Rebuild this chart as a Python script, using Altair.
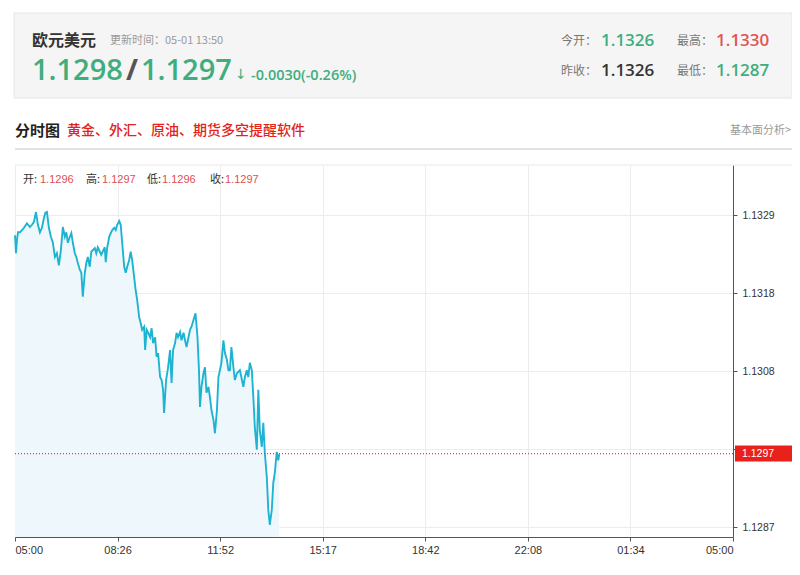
import altair as alt
import pandas as pd

# ---------------- data ----------------
minutes = [0, 2, 4, 6, 10, 14, 18, 24, 30, 34, 38, 42, 46, 50, 54, 58, 61, 64, 68, 72,
           76, 80, 84, 88, 92, 96, 100, 103, 106, 110, 113, 116, 120, 123, 126, 130, 133, 136, 140, 143,
           146, 150, 153, 160, 163, 166, 173, 180, 182, 185, 189, 192, 195, 199, 202, 205, 209, 212, 215, 219,
           222, 225, 229, 232, 235, 239, 242, 245, 249, 252, 255, 259, 261, 264, 267, 271, 274, 277, 281, 284,
           287, 291, 294, 297, 299, 303, 307, 311, 314, 317, 321, 324, 327, 331, 334, 338, 341, 344, 348, 351,
           354, 358, 362, 366, 369, 371, 374, 378, 381, 384, 388, 391, 394, 398, 401, 405, 408, 411, 414, 418,
           421, 425, 428, 431, 434, 438, 441, 445, 451, 458, 461, 465, 468, 471, 475, 478, 481, 485, 488, 491,
           495, 498, 501, 505, 508, 511, 515, 518, 521, 525, 528, 530]
prices = [1.13261, 1.13237, 1.13255, 1.13265, 1.13265, 1.13268, 1.13271, 1.13277, 1.13272, 1.13275,
          1.13279, 1.13292, 1.13275, 1.13265, 1.13271, 1.13284, 1.13291, 1.13292, 1.13271, 1.13259,
          1.13251, 1.13232, 1.13237, 1.13221, 1.13241, 1.13272, 1.13259, 1.13265, 1.13251, 1.13259,
          1.13264, 1.13251, 1.13237, 1.13232, 1.13224, 1.13215, 1.13211, 1.13179, 1.13211, 1.13224,
          1.13232, 1.13219, 1.13239, 1.13244, 1.13237, 1.13245, 1.13235, 1.13245, 1.13225, 1.13245,
          1.13259, 1.13264, 1.13268, 1.13271, 1.13268, 1.13275, 1.13280, 1.13275, 1.13251, 1.13219,
          1.13211, 1.13219, 1.13228, 1.13239, 1.13228, 1.13205, 1.13188, 1.13175, 1.13152, 1.13144,
          1.13135, 1.13139, 1.13108, 1.13135, 1.13131, 1.13125, 1.13137, 1.13117, 1.13125, 1.13099,
          1.13104, 1.13072, 1.13068, 1.13055, 1.13024, 1.13068, 1.13085, 1.13108, 1.13064, 1.13108,
          1.13117, 1.13131, 1.13125, 1.13132, 1.13121, 1.13131, 1.13121, 1.13112, 1.13125, 1.13135,
          1.13139, 1.13148, 1.13157, 1.13125, 1.13081, 1.13032, 1.13059, 1.13077, 1.13085, 1.13051,
          1.13059, 1.13045, 1.13028, 1.13015, 1.12997, 1.13028, 1.13072, 1.13081, 1.13091, 1.13121,
          1.13104, 1.13095, 1.13081, 1.13081, 1.13112, 1.13085, 1.13068, 1.13077, 1.13081, 1.13059,
          1.13072, 1.13081, 1.13072, 1.13091, 1.13081, 1.13045, 1.13005, 1.12975, 1.13055, 1.13001,
          1.12979, 1.13011, 1.12971, 1.12939, 1.12895, 1.12875, 1.12895, 1.12931, 1.12944, 1.12972,
          1.12961, 1.12969]

x_labels = ["05:00", "08:26", "11:52", "15:17", "18:42", "22:08", "01:34", "05:00"]
x_span = 1440
y_ticks = [1.12872, 1.12976, 1.1308, 1.13184, 1.13288]
y_domain = [1.128587, 1.133547]
last_price = 1.1297

ohlc_names = ["开:", "高:", "低:", "收:"]
ohlc_values = ["1.1296", "1.1297", "1.1296", "1.1297"]

df = pd.DataFrame({"t": minutes, "p": prices})

W, H = 718, 372
CJK = "Noto Sans CJK SC"
NUM = "Open Sans"
AX = "Liberation Sans"
GREEN = "#3fad7e"
RED = "#e05656"
LINE = "#1fb3d2"

step = x_span / (len(x_labels) - 1)
x_vals = [i * step for i in range(len(x_labels))]
lab_arr = "[" + ",".join("'%s'" % s for s in x_labels) + "]"
x_expr = lab_arr + "[round(datum.value/%f)]" % step
y_expr = "abs(datum.value-%f)<0.00001 ? '' : format(datum.value, '.4f')" % y_ticks[1]

xs = alt.Scale(domain=[0, x_span], nice=False)
ys = alt.Scale(domain=y_domain, nice=False, zero=False)

x_axis = alt.Axis(
    values=x_vals, labelExpr=x_expr, title="", grid=True, gridColor="#ececec",
    domainColor="#555555", tickColor="#555555", tickSize=4, labelFlush=True,
    labelFont=AX, labelFontSize=11, labelColor="#333333", labelPadding=3)
y_axis = alt.Axis(
    orient="right", values=y_ticks, labelExpr=y_expr, title="", grid=True,
    gridColor="#ececec", domainColor="#555555", tickColor="#555555", tickSize=4,
    labelFont=AX, labelFontSize=10.5, labelColor="#333333", labelPadding=5)

area = alt.Chart(df).mark_area(color="#eef8fc", opacity=1).encode(
    x=alt.X("t:Q", scale=xs, axis=x_axis),
    y=alt.Y("p:Q", scale=ys, axis=y_axis),
    y2=alt.datum(y_domain[0]),
)

line = alt.Chart(df).mark_line(color=LINE, strokeWidth=1.9).encode(
    x=alt.X("t:Q", scale=xs, axis=x_axis),
    y=alt.Y("p:Q", scale=ys, axis=y_axis),
)

one = alt.Data(values=[{}])

last_rule = alt.Chart(one).mark_rule(stroke="#ff3030", strokeDash=[1, 2], strokeWidth=1.2,
                                     strokeOpacity=1).encode(
    y=alt.datum(last_price, scale=ys, axis=y_axis)
)
last_box = alt.Chart(one).mark_tick(color="#e8221a", size=57, thickness=16, opacity=1).encode(
    y=alt.datum(last_price, scale=ys, axis=y_axis), x=alt.value(748.5)
)
last_txt = alt.Chart(one).mark_text(text="%.4f" % last_price, color="white", font=AX, fontSize=10.5,
                                    align="left", baseline="middle").encode(
    y=alt.datum(last_price, scale=ys, axis=y_axis), x=alt.value(727)
)


def label(text, x, y, size, color, weight="normal", font=CJK, align="left"):
    return alt.Chart(one).mark_text(text=text, fontSize=size, color=color, fontWeight=weight,
                                    font=font, align=align, baseline="middle").encode(
        x=alt.value(x), y=alt.value(y))


def box(x1, x2, y1, y2, fill, stroke):
    return alt.Chart(one).mark_rect(fill=fill, stroke=stroke, strokeWidth=1).encode(
        x=alt.value(x1), x2=alt.value(x2), y=alt.value(y1), y2=alt.value(y2))


def hline(x1, x2, y, color, width):
    return alt.Chart(one).mark_rule(color=color, strokeWidth=width).encode(
        x=alt.value(x1), x2=alt.value(x2), y=alt.value(y))


deco = [
    box(-1, 777, -152, -67, "#f5f5f5", "#e6e6e6"),
    label("欧元美元", 17, -124, 16, "#333333", "bold"),
    label("更新时间：05-01 13:50", 95, -124, 11, "#9a9a9a"),
    label("1.1298", 17, -94, 29, GREEN, 600, NUM),
    label("/", 111, -94, 29, "#555555", 700, NUM),
    label("1.1297", 126, -94, 29, GREEN, 600, NUM),
    label("↓", 220, -90, 14, GREEN, "normal", "DejaVu Sans"),
    label("-0.0030(-0.26%)", 236, -89, 14.5, GREEN, 600, NUM),
    label("今开：", 546, -124, 12, "#777777"),
    label("1.1326", 586, -124, 17, GREEN, 600, NUM),
    label("最高：", 662, -124, 12, "#777777"),
    label("1.1330", 701, -124, 17, RED, 600, NUM),
    label("昨收：", 546, -94, 12, "#777777"),
    label("1.1326", 586, -94, 17, "#333333", 600, NUM),
    label("最低：", 662, -94, 12, "#777777"),
    label("1.1287", 701, -94, 17, GREEN, 600, NUM),
    label("分时图", 0, -34, 15, "#222222", "bold"),
    label("黄金、外汇、原油、期货多空提醒软件", 52, -34, 14, "#e3231a", 500),
    label("基本面分析>", 776, -34, 11, "#9a9a9a", "normal", CJK, "right"),
    hline(0, 777, -16, "#e2e2e2", 2),
    hline(0, 777, 0, "#e8e8e8", 1),
]

ohlc_x = [(8, 25), (71, 87), (132, 147), (195, 210)]
for (nx, vx), n, v in zip(ohlc_x, ohlc_names, ohlc_values):
    deco.append(label(n, nx, 15, 11, "#333333"))
    deco.append(label(v, vx, 15, 11, "#e05050", "normal", AX))

chart = alt.layer(area, line, *deco, last_rule, last_box, last_txt).properties(
    width=W, height=H,
    padding={"left": 7, "top": 157, "right": 59, "bottom": 30},
    autosize=alt.AutoSizeParams(type="none"),
).configure_view(strokeWidth=0)

chart.save("out.html", embed_options={"renderer": "svg", "actions": False})
